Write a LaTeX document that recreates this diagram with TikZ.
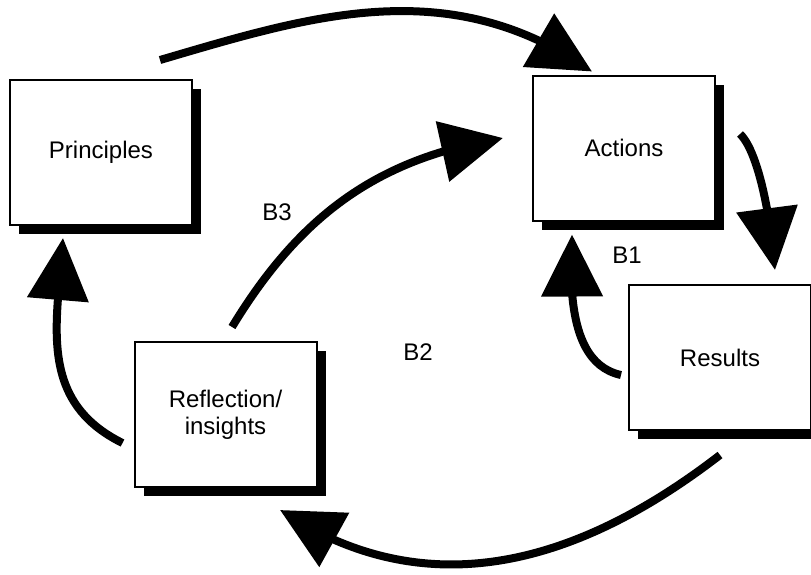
\documentclass[tikz,border=0pt]{standalone}
\usepackage{fontspec}
\setmainfont{Liberation Sans}
\usetikzlibrary{calc,shadows,arrows.meta,bending}

\begin{document}
\begin{tikzpicture}[x=1pt,y=-1pt,
    box/.style={draw,line width=2pt,fill=white,minimum width=182pt,
      minimum height=145pt,align=center,
      font=\fontsize{24}{27}\selectfont,
      general shadow={fill=black,shadow xshift=9pt,shadow yshift=-9pt}},
    loopy/.style={line width=8pt,-{Triangle[length=62pt,width=60pt]}},
    tag/.style={font=\fontsize{24}{27}\selectfont}]
  \useasboundingbox (0,0) rectangle (811,574);
  \node[box] (prin) at (101,152.5) {Principles};
  \node[box] (act) at (624,148) {Actions};
  \node[box] (refl) at (225.5,414.5) {Reflection/\\insights};
  \node[box] (res) at (720,357.5) {Results};
  \draw[loopy] ($(prin.north east)+(-33,-19)$)
    .. controls +(150,-44) and +(-143,-100) .. ($(act.north)+(-32,-3)$);
  \draw[loopy] ($(act.east)+(24,-14)$)
    .. controls +(17,16) and +(-5,-60) .. ($(res.north)+(55,-14)$);
  \draw[loopy] ($(res.west)+(-7,17.5)$)
    .. controls +(-46,-10) and +(-4,70) .. ($(act.south)+(-52,13)$);
  \draw[loopy] ($(refl.west)+(-11,28.5)$)
    .. controls +(-87,-43) and +(-5,82) .. ($(prin.south)+(-38,12)$);
  \draw[loopy] ($(res.south)+(0,24)$)
    .. controls +(-175,135) and +(120,80) .. ($(refl.south)+(54.5,22)$);
  \draw[loopy] ($(refl.north)+(6.5,-14)$)
    .. controls +(68,-112) and +(-125,20) .. ($(act.west)+(-29,-10)$);
  \node[tag] (b3) at (277,212) {B3};
  \node[tag] (b1) at (627,255) {B1};
  \node[tag] (b2) at (418,352) {B2};
\end{tikzpicture}
\end{document}
